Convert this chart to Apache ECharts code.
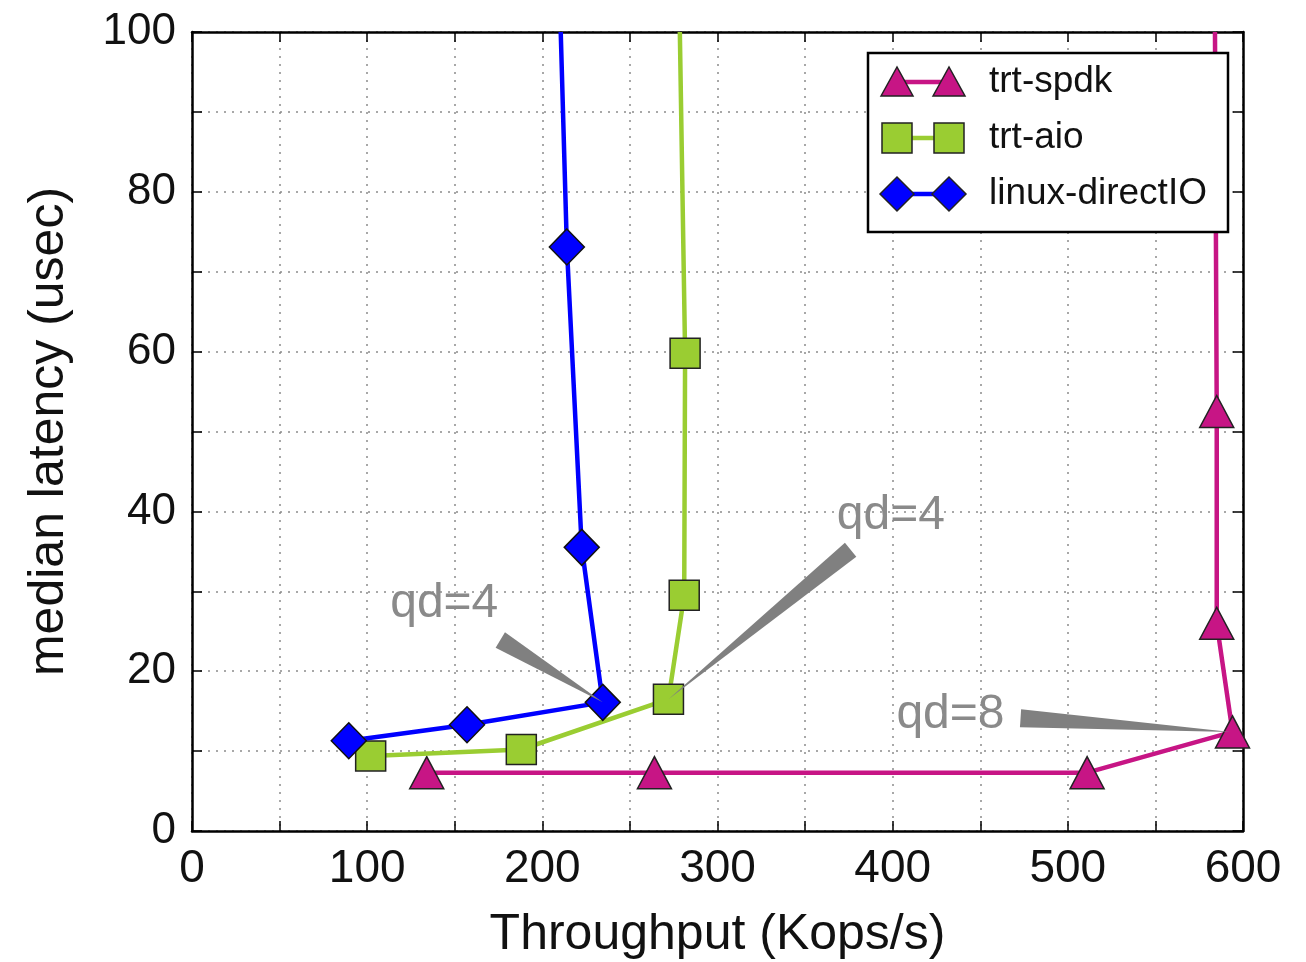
<!DOCTYPE html>
<html>
<head>
<meta charset="utf-8">
<script src="https://cdn.jsdelivr.net/npm/echarts@6/dist/echarts.min.js"></script>
<style>
  html, body { margin: 0; background: #fff; }
  #chart { width: 1306px; height: 962px; }
</style>
</head>
<body>
<div id="chart"></div>
<script>
// [throughput Kops/s, median latency usec]
const spdkPoints = [[134, 7.3], [264, 7.3], [511, 7.3], [594, 12.4], [585, 26], [585, 52.5]];
const spdkTail = [584, 100];
const aioPoints = [[102, 9.4], [188, 10.2], [272, 16.5], [281, 29.5], [281.5, 59.8]];
const aioTail = [278.5, 100];
const directPoints = [[89.5, 11.3], [157, 13.3], [234.5, 16.1], [222.5, 35.5], [214, 73.1]];
const directTail = [210.5, 100];

const seriesNames = ['trt-spdk', 'trt-aio', 'linux-directIO'];
const seriesColors = ['#C71585', '#9ACD32', '#0000FF'];

// annotations: label, label position, wedge tail, wedge tip
const noteLabels = ['qd=4', 'qd=4', 'qd=8'];
const noteTextPos = [[144, 28.5], [399, 39.5], [433, 14.5]];
const noteTails = [[176, 23.9], [376, 35.2], [473, 14.1]];
const noteTips = [[234.5, 16.1], [272, 16.5], [593, 12.4]];

const font = 'Liberation Sans, Arial, sans-serif';

const withTail = (pts, tail) => pts.map(p => p).concat([{ value: tail, symbol: 'none' }]);

const chart = echarts.init(document.getElementById('chart'));

const gridLine = { show: true, lineStyle: { color: '#8c8c8c', type: [2, 6], width: 1.5 } };
const tick = { show: true, inside: true, length: 10, lineStyle: { color: '#000', width: 1.5 } };
const minorTick = { show: true, splitNumber: 2, length: 10, lineStyle: { color: '#000', width: 1.5 } };
const axisLine = { show: true, onZero: false, lineStyle: { color: '#000', width: 2.5 } };

const option = {
  animation: false,
  grid: { left: 192, right: 63, top: 32, bottom: 131, outerBoundsMode: 'none', containLabel: false },
  xAxis: [
    {
      type: 'value', min: 0, max: 600, interval: 100,
      name: 'Throughput (Kops/s)', nameLocation: 'middle', nameGap: 79,
      nameTextStyle: { fontFamily: font, fontSize: 50, color: '#111' },
      axisLine, axisTick: tick, minorTick,
      axisLabel: { fontFamily: font, fontSize: 46, color: '#111', margin: 15 },
      splitLine: gridLine, minorSplitLine: gridLine
    },
    {
      type: 'value', position: 'top', min: 0, max: 600, interval: 100,
      axisLine, axisTick: tick, minorTick,
      axisLabel: { show: false }, splitLine: { show: false }
    }
  ],
  yAxis: [
    {
      type: 'value', min: 0, max: 100, interval: 20,
      name: 'median latency (usec)', nameLocation: 'middle', nameGap: 118,
      nameTextStyle: { fontFamily: font, fontSize: 50, color: '#111' },
      axisLine, axisTick: tick, minorTick,
      axisLabel: { fontFamily: font, fontSize: 44, color: '#111', margin: 16 },
      splitLine: gridLine, minorSplitLine: gridLine
    },
    {
      type: 'value', position: 'right', min: 0, max: 100, interval: 20,
      axisLine, axisTick: tick, minorTick,
      axisLabel: { show: false }, splitLine: { show: false }
    }
  ],
  series: [
    {
      name: seriesNames[0], type: 'line', z: 2,
      data: withTail(spdkPoints, spdkTail),
      symbol: 'triangle', symbolSize: [34, 32],
      lineStyle: { color: seriesColors[0], width: 4.5 },
      itemStyle: { color: seriesColors[0], borderColor: '#222', borderWidth: 1.5 }
    },
    {
      name: seriesNames[1], type: 'line', z: 3,
      data: withTail(aioPoints, aioTail),
      symbol: 'rect', symbolSize: 30,
      lineStyle: { color: seriesColors[1], width: 4.5 },
      itemStyle: { color: seriesColors[1], borderColor: '#222', borderWidth: 1.5 }
    },
    {
      name: seriesNames[2], type: 'line', z: 4,
      data: withTail(directPoints, directTail),
      symbol: 'diamond', symbolSize: [35, 36],
      lineStyle: { color: seriesColors[2], width: 4.5 },
      itemStyle: { color: seriesColors[2], borderColor: '#111', borderWidth: 1.5 }
    }
  ]
};

chart.setOption(option);

const graphics = [];

// wedge-shaped annotation arrows, placed through the axes
noteLabels.forEach((label, i) => {
  const t = chart.convertToPixel({ gridIndex: 0 }, noteTails[i]);
  const p = chart.convertToPixel({ gridIndex: 0 }, noteTips[i]);
  const c = chart.convertToPixel({ gridIndex: 0 }, noteTextPos[i]);
  const dx = p[0] - t[0], dy = p[1] - t[1];
  const len = Math.hypot(dx, dy);
  const nx = -dy / len * 9, ny = dx / len * 9;
  graphics.push({
    type: 'polygon', z: 100,
    shape: { points: [[t[0] + nx, t[1] + ny], [t[0] - nx, t[1] - ny], p] },
    style: { fill: '#808080' }
  });
  graphics.push({
    type: 'text', z: 100, x: c[0], y: c[1],
    style: {
      text: label, fill: '#8a8a8a', font: '48px ' + font,
      textAlign: 'center', textVerticalAlign: 'middle'
    }
  });
});

// legend box in the matplotlib style: marker - line - marker
const lgX = 868, lgY = 53;
graphics.push({
  type: 'rect', z: 200,
  shape: { x: lgX, y: lgY, width: 360, height: 179 },
  style: { fill: '#fff', stroke: '#000', lineWidth: 2.5 }
});
const markerShape = (kind, cx, cy) => {
  if (kind === 0) return { type: 'polygon', shape: { points: [[cx - 16, cy + 14], [cx, cy - 15], [cx + 16, cy + 14]] } };
  if (kind === 1) return { type: 'rect', shape: { x: cx - 15, y: cy - 15, width: 30, height: 30 } };
  return { type: 'polygon', shape: { points: [[cx - 17, cy], [cx, cy - 17], [cx + 17, cy], [cx, cy + 17]] } };
};
seriesNames.forEach((name, i) => {
  const cy = lgY + 29 + i * 56;
  const left = 897, right = 949;
  graphics.push({
    type: 'line', z: 201,
    shape: { x1: left, y1: cy, x2: right, y2: cy },
    style: { stroke: seriesColors[i], lineWidth: 4.5 }
  });
  [left, right].forEach(cx => {
    const m = markerShape(i, cx, cy);
    m.z = 202;
    m.style = { fill: seriesColors[i], stroke: '#222', lineWidth: 1.5 };
    graphics.push(m);
  });
  graphics.push({
    type: 'text', z: 202, x: 989, y: cy,
    style: { text: name, fill: '#111', font: '37px ' + font, textVerticalAlign: 'middle' }
  });
});

chart.setOption({ graphic: graphics });
</script>
</body>
</html>
